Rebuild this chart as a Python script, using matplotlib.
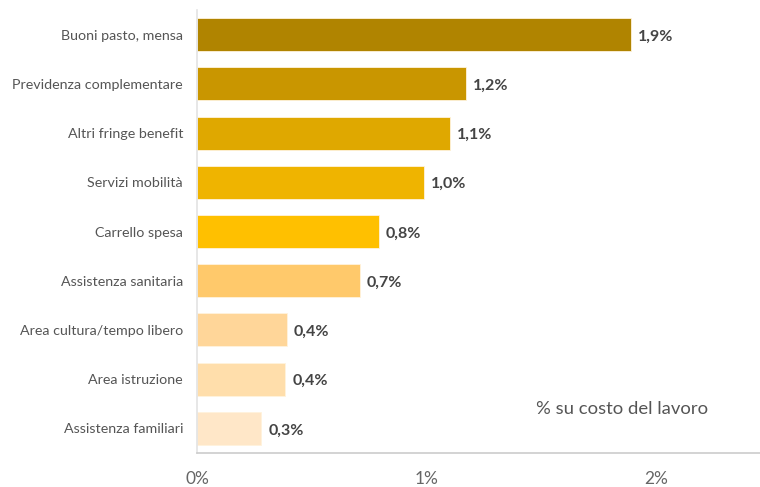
import matplotlib
matplotlib.use("Agg")
import matplotlib.pyplot as plt

plt.rcParams['font.family'] = ['Lato', 'DejaVu Sans']

categories = [
    "Buoni pasto, mensa",
    "Previdenza complementare",
    "Altri fringe benefit",
    "Servizi mobilità",
    "Carrello spesa",
    "Assistenza sanitaria",
    "Area cultura/tempo libero",
    "Area istruzione",
    "Assistenza familiari",
]
values = [1.89, 1.17, 1.10, 0.99, 0.79, 0.71, 0.39, 0.385, 0.28]
colors = [
    "#B08400", "#C99600", "#DFA800", "#EFB400", "#FFC000",
    "#FFC96B", "#FFD699", "#FFDEAB", "#FFE7C8",
]
x_ticks = [0, 1, 2]
x_tick_labels = ["0%", "1%", "2%"]
axis_note = "% su costo del lavoro"

fig = plt.figure(figsize=(7.6, 4.87), dpi=100)
ax = fig.add_axes([197 / 760, 1 - 453 / 487, 1 - 197 / 760, (453 - 10) / 487])

pos = list(range(len(categories)))
ax.barh(pos, values, height=0.67, color=colors, edgecolor="#fff3dd", linewidth=0.6)

for p, v in zip(pos, values):
    ax.text(v + 0.03, p + 0.04, f"{v:.1f}".replace(".", ",") + "%", va="center", ha="left",
            fontsize=11.5, fontweight="bold", color="#444444")

ax.set_ylim(len(categories) - 0.5, -0.5)
ax.set_xlim(0, 2.45)
ax.set_yticks(pos)
ax.set_yticklabels(categories, fontsize=10.3, color="#555555")
ax.set_xticks(x_ticks)
ax.set_xticklabels(x_tick_labels, fontsize=12.5, color="#666666")
ax.tick_params(axis="y", length=0, pad=10)
ax.tick_params(axis="x", length=0, pad=13)

for s in ["top", "right"]:
    ax.spines[s].set_visible(False)
ax.spines["left"].set_color("#e3e3e3")
ax.spines["bottom"].set_color("#cccccc")
ax.spines["left"].set_linewidth(1.2)
ax.spines["bottom"].set_linewidth(1.2)

ax.text(1.475, 7.6, axis_note, fontsize=13.3, color="#555555", va="center", ha="left")

fig.savefig("out.png", dpi=100)
